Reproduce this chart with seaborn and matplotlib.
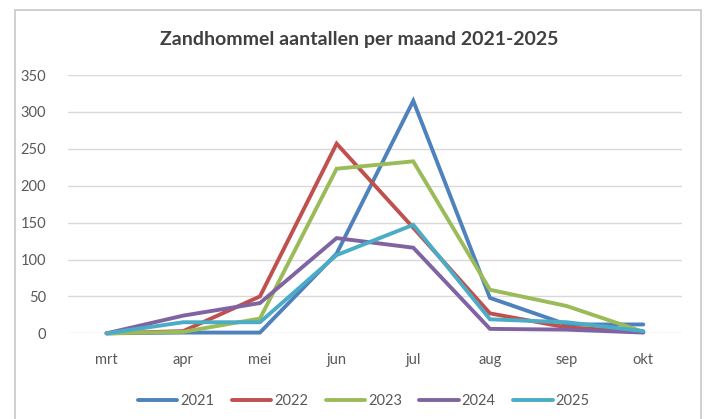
import matplotlib
matplotlib.use("Agg")
import matplotlib.pyplot as plt
from matplotlib.patches import Rectangle
import seaborn as sns
import pandas as pd

months = ["mrt", "apr", "mei", "jun", "jul", "aug", "sep", "okt"]
y2021 = [0, 1, 1, 108, 315, 48, 12, 12]
y2022 = [0, 3, 50, 257, 143, 27, 8, 2]
y2023 = [0, 2, 20, 223, 233, 59, 37, 2]
y2024 = [0, 24, 41, 129, 116, 6, 5, 1]
y2025 = [0, 15, 15, 106, 147, 19, 15, 3]
years = ["2021", "2022", "2023", "2024", "2025"]
colors = ["#4F81BD", "#C0504D", "#9BBB59", "#8064A2", "#4BACC6"]
title = "Zandhommel aantallen per maand 2021-2025"

series = [y2021, y2022, y2023, y2024, y2025]
rows = []
for yr, vals in zip(years, series):
    for m, v in zip(months, vals):
        rows.append({"maand": m, "aantal": v, "jaar": yr})
df = pd.DataFrame(rows)

sns.set_theme(style="white")
plt.rcParams["font.family"] = ["Lato", "DejaVu Sans"]

fig = plt.figure(figsize=(7.06, 4.19), dpi=100)
ax = fig.add_axes([0.0967, 0.2045, 0.8688, 0.6165])

sns.lineplot(data=df, x="maand", y="aantal", hue="jaar", hue_order=years,
             palette=dict(zip(years, colors)), linewidth=2.8, ax=ax,
             sort=False, legend=True)
for ln in ax.lines:
    ln.set_clip_on(False)
    ln.set_solid_joinstyle("miter")

ax.set_xlim(-0.5, len(months) - 0.5)
ax.set_ylim(0, 350)
ax.set_yticks(range(0, 351, 50))
ax.yaxis.grid(True, color="#d9d9d9", linewidth=1.0)
ax.set_axisbelow(True)
for s in ax.spines.values():
    s.set_visible(False)
ax.set_xlabel("")
ax.set_ylabel("")
ax.tick_params(axis="both", length=0, labelsize=10.5, labelcolor="#595959")
ax.tick_params(axis="y", pad=16)
ax.tick_params(axis="x", pad=14)

leg = ax.legend(loc="center", bbox_to_anchor=(0.482, -0.262), ncol=5,
                frameon=False, handlelength=2.7, handletextpad=0.2,
                columnspacing=1.2, fontsize=10.5)
for t in leg.get_texts():
    t.set_color("#595959")
for h in leg.get_lines():
    h.set_linewidth(2.8)

fig.text(0.509, 0.905, title, ha="center", va="center", fontsize=14,
         fontweight="bold", color="#404040")

fig.patches.append(Rectangle((15 / 706, -0.05), (701 - 15) / 706, 1 - 10 / 419 + 0.05,
                             transform=fig.transFigure, fill=False,
                             edgecolor="#c8c8c8", linewidth=1.2))

fig.savefig("out.png", dpi=100, facecolor="white")
